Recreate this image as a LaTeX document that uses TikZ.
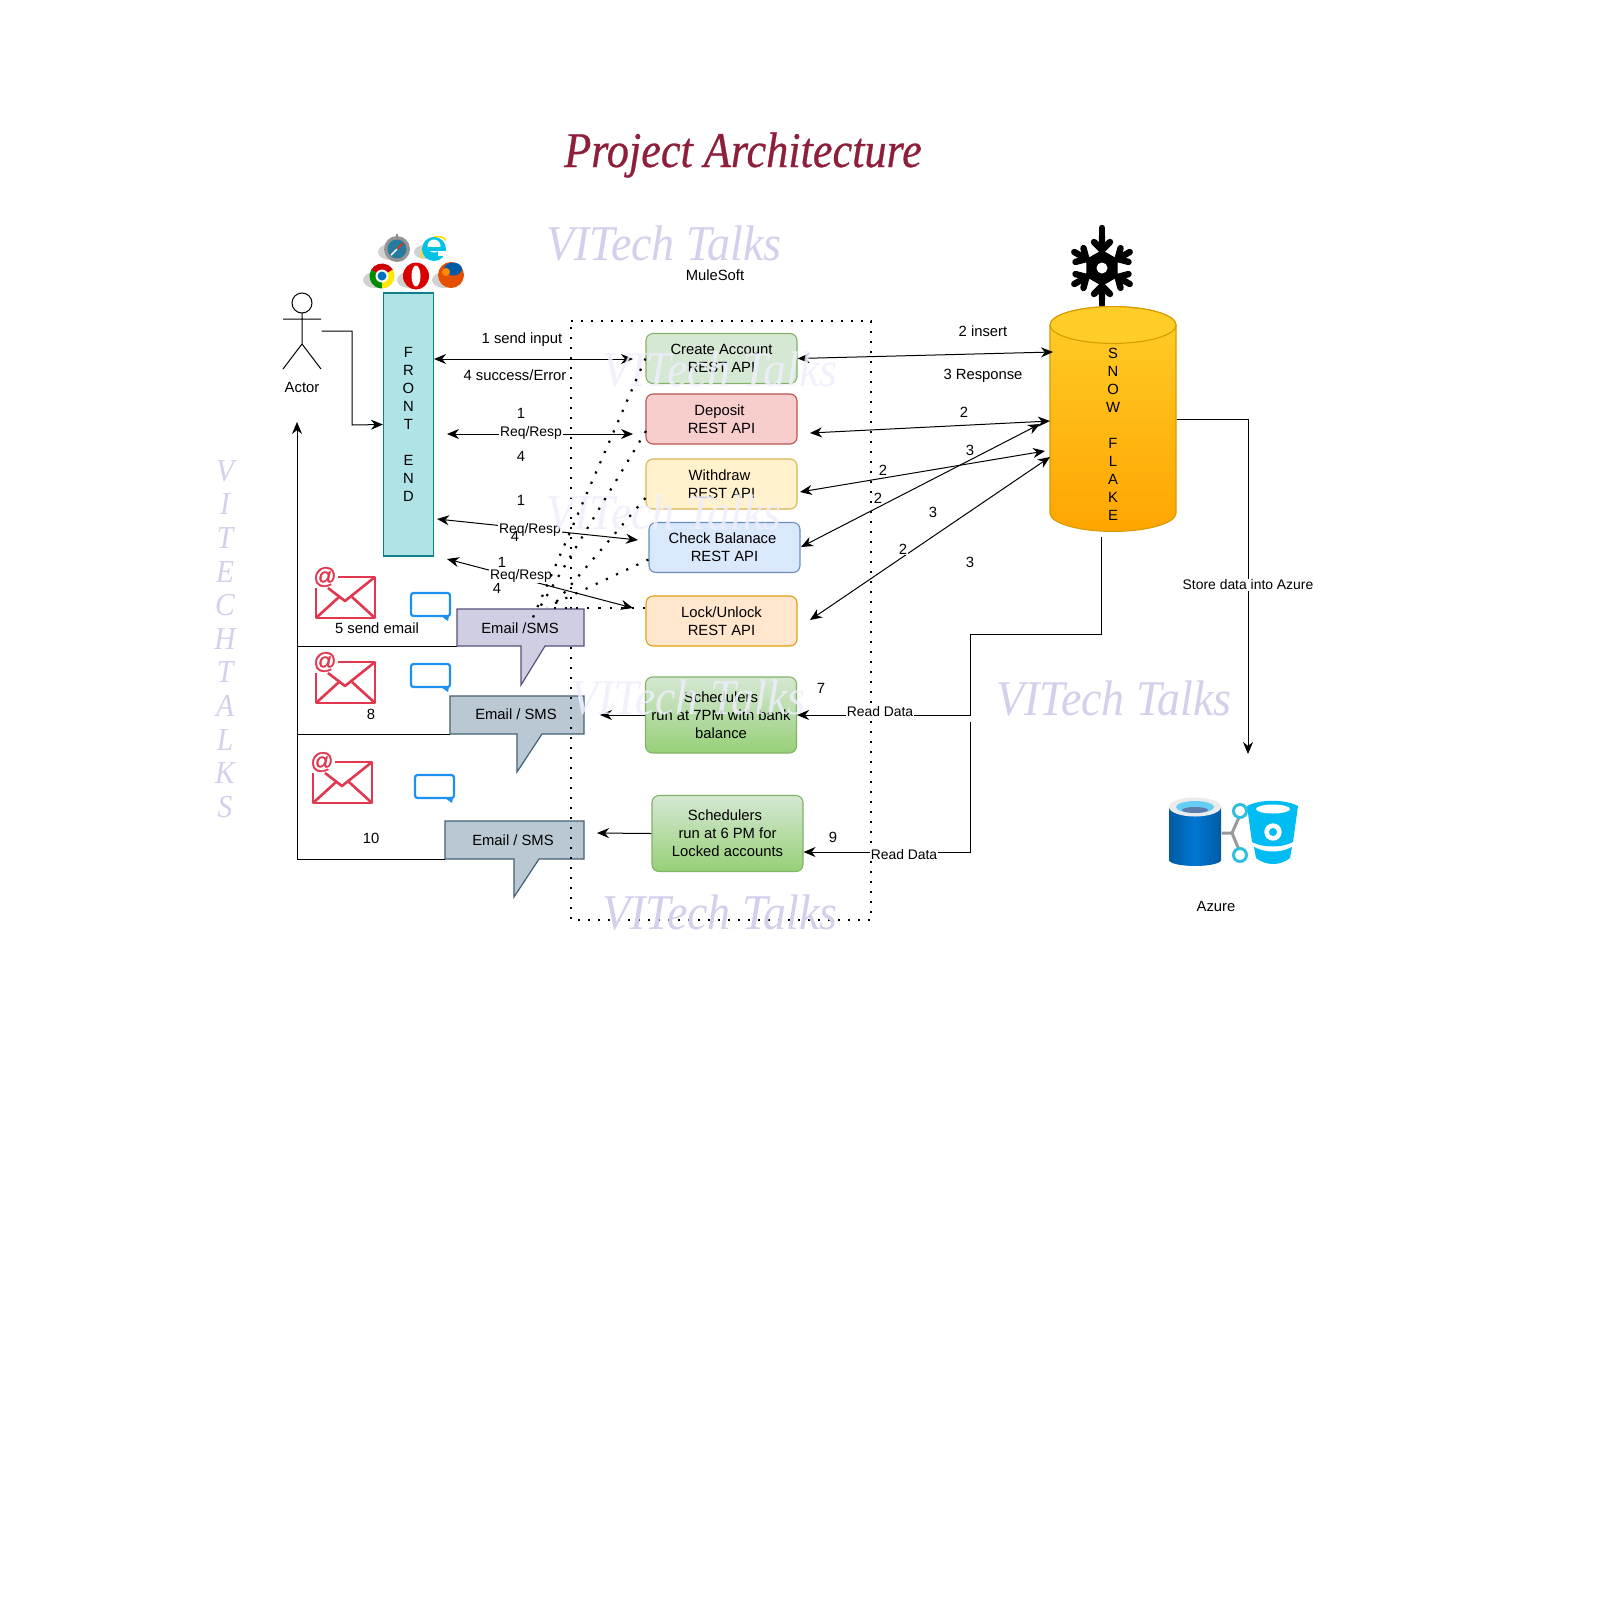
\documentclass[tikz,border=0pt]{standalone}
\usepackage{fontspec}
\usetikzlibrary{arrows.meta}
\setmainfont{Liberation Sans}
\newfontfamily\corsiva[FakeStretch=0.92]{Liberation Serif}
\newfontfamily\corsivab[FakeStretch=0.885,FakeBold=0.5]{Liberation Serif}
\newfontfamily\atfont[FakeBold=1.2]{Liberation Sans}
\definecolor{wine}{HTML}{8E1F3A}
\definecolor{wmdark}{HTML}{D3D0EC}
\definecolor{wmlight}{HTML}{EFEEFC}
\definecolor{maired}{HTML}{E1374F}
\definecolor{chatblue}{HTML}{1E90F0}
\definecolor{azcyan}{HTML}{00BCF2}
\definecolor{azring}{HTML}{32BEDD}
\definecolor{green1}{HTML}{D5E8D4}
\definecolor{green2}{HTML}{97D077}
\definecolor{green3}{HTML}{82B366}
\definecolor{redfill}{HTML}{F8CECC}
\definecolor{redline}{HTML}{B85450}
\definecolor{yelfill}{HTML}{FFF2CC}
\definecolor{yelline}{HTML}{D6B656}
\definecolor{bluefill}{HTML}{DAE8FC}
\definecolor{blueline}{HTML}{6C8EBF}
\definecolor{orafill}{HTML}{FFE6CC}
\definecolor{oraline}{HTML}{E0A010}
\definecolor{frontfill}{HTML}{B0E3E6}
\definecolor{frontline}{HTML}{0E8088}
\definecolor{snowtop}{HTML}{FFCD28}
\definecolor{snowbot}{HTML}{FFA500}
\definecolor{snowline}{HTML}{D79B00}
\definecolor{mailgray}{HTML}{BAC8D3}
\definecolor{mailgrayl}{HTML}{23445D}
\definecolor{mailpurple}{HTML}{D0CEE2}
\definecolor{mailpurplel}{HTML}{56517E}
\tikzset{
  mailicon/.pic={
    \draw[maired,line width=2.6,line join=round] (22,0) -- (59,0) -- (59,41) -- (0,41) -- (0,11);
    \draw[maired,line width=2.6,line join=round] (12,11) -- (29,24) -- (59,0);
    \draw[maired,line width=2.6] (0,41) -- (23,20) (59,41) -- (36,20);
    \node[text=maired,font=\fontsize{23}{23}\atfont\selectfont] (@) at (9,0) {@};
  },
  chaticon/.pic={
    \draw[chatblue,line width=2.2,rounded corners=2.5] (0,0) rectangle (39,23);
    \fill[chatblue] (30,23) -- (38,23) -- (37,28) -- cycle;
  }
}
\begin{document}
\begin{tikzpicture}[x=1pt,y=-1pt,>={Stealth[length=12pt,width=10pt]},line width=1]
\fontsize{14.8}{18}\selectfont
\tikzstyle{every node}=[inner sep=1,align=center]
\tikzstyle{api}=[draw,rounded corners=7,minimum width=151,minimum height=50,line width=1.1]
\tikzstyle{sched}=[api,minimum height=76,top color=green1,bottom color=green2,draw=green3]
\tikzstyle{elabel}=[font=\fontsize{13.9}{16}\selectfont]
\tikzstyle{wlabel}=[elabel,fill=white]
\tikzstyle{bigdark}=[text=wmdark,font=\fontsize{50}{50}\corsiva\itshape\selectfont]
\tikzstyle{biglight}=[text=wmlight,text opacity=.85,font=\fontsize{50}{50}\corsiva\itshape\selectfont]
\tikzstyle{dotbox}=[line width=2.4,dash pattern=on 2.4 off 7.6]
\tikzstyle{dotlink}=[line width=2.2,dash pattern=on 2.2 off 9]
\tikzstyle{mailbox}=[line width=1.2,line join=miter]
\path[fill=white,use as bounding box] (0,0) rectangle (1601,1604);

\node[text=wine,font=\fontsize{50}{50}\corsivab\itshape\selectfont] (title) at (743,155) {Project Architecture};
\node[bigdark] (wm1) at (664,244) {VITech Talks};
\node[bigdark] (wm2) at (1114,699) {VITech Talks};
\node (mule) at (715,275) {MuleSoft};
\node[text=wmdark,font=\fontsize{32}{33.6}\corsiva\itshape\selectfont] (wmv) at (225,639) {V\\I\\T\\E\\C\\H\\T\\A\\L\\K\\S};

% lower mail callouts
\draw[mailbox,draw=mailgrayl!85,fill=mailgray] (450,696) -- (584,696) -- (584,734) -- (542,734) -- (517,772) -- (517,734) -- (450,734) -- cycle;
\draw[mailbox,draw=mailgrayl!85,fill=mailgray] (445,821) -- (584,821) -- (584,859) -- (539,859) -- (514,897) -- (514,859) -- (445,859) -- cycle;
\node (mail2) at (516,714) {Email / SMS};
\node (mail3) at (513,840) {Email / SMS};

% dotted box
\draw[dotbox] (571,321) -- (871,321) -- (871,920) -- (571,920) -- cycle;

% actor
\node[minimum width=38,minimum height=76,inner sep=0] (actor) at (302,331) {};
\draw (302,303) circle[radius=10pt];
\draw (302,313) -- (302,344) (283,319) -- (321,319) (283,369) -- (302,344) -- (321,369);
\node (actorlbl) at (302,387) {Actor};

% browsers
\fill[black!18] (390,252) ellipse[x radius=12pt,y radius=8pt];
\fill[black!18] (425,252) ellipse[x radius=11pt,y radius=7pt];
\fill[black!18] (375,280) ellipse[x radius=12pt,y radius=8pt];
\fill[black!18] (409,280) ellipse[x radius=12pt,y radius=8pt];
\fill[black!18] (444,280) ellipse[x radius=12pt,y radius=8pt];
\fill[black!42] (397,249) circle[radius=13pt];
\fill[black!45] (396,234) rectangle (398,238);
\fill[blue!30!cyan!55!black!85] (397,249) circle[radius=9.5pt];
\draw[red!70!orange,line width=1.4] (397,249) -- (403,243);
\draw[white,line width=1.4] (397,249) -- (391,255);
\draw[yellow!80!orange,line width=1.6] (422,258) .. controls (420,238) and (440,232) .. (446,240);
\fill[blue!15!cyan!90!black] (434,249) circle[radius=12pt];
\fill[white] (434,246) circle[radius=6.5pt];
\fill[blue!15!cyan!90!black] (428,247) rectangle (441,251);
\fill[white] (438,251) rectangle (447,256);
\fill[red!80!black] (382,276) -- ++(150:12.5pt) arc[start angle=150,end angle=30,radius=12.5pt] -- cycle;
\fill[green!55!black] (382,276) -- ++(150:12.5pt) arc[start angle=150,end angle=270,radius=12.5pt] -- cycle;
\fill[yellow!90!orange] (382,276) -- ++(270:12.5pt) arc[start angle=270,end angle=390,radius=12.5pt] -- cycle;
\fill[white] (382,276) circle[radius=6.5pt];
\fill[blue!40!cyan!75!black] (382,276) circle[radius=4.5pt];
\fill[red!85!black] (416,276) ellipse[x radius=13pt,y radius=13.5pt];
\fill[white] (416,276) ellipse[x radius=4.5pt,y radius=10.5pt];
\fill[orange!70!red!90!black] (451,275) circle[radius=13pt];
\fill[blue!45!cyan!65!black] (453,269) ellipse[x radius=9pt,y radius=6.5pt];
\fill[orange!90!yellow] (446,272) circle[radius=4pt];

% front end
\node[draw=frontline,fill=frontfill,minimum width=50,minimum height=263,inner sep=0,line width=1.1] (front) at (408.5,424.5) {F\\R\\O\\N\\T\\ \\E\\N\\D};

% rest api boxes
\node[api,fill=green1,draw=green3] (create) at (721.5,358.5) {Create Account\\REST API};
\node[api,fill=redfill,draw=redline] (deposit) at (721.5,419) {Deposit\hspace*{4pt}\\REST API};
\node[api,fill=yelfill,draw=yelline] (withdraw) at (721.5,484) {Withdraw\hspace*{4pt}\\REST API};
\node[api,fill=bluefill,draw=blueline] (check) at (724.5,547.5) {Check Balanace\hspace*{4pt}\\REST API};
\node[api,fill=orafill,draw=oraline] (lock) at (721.5,621) {Lock/Unlock\\REST API};
\node[sched] (sched7) at (721,715) {Schedulers\\run at 7PM with bank\\balance};
\node[sched] (sched6) at (727.5,833.5) {Schedulers\hspace*{5pt}\\run at 6 PM for\\Locked accounts};

% snowflake
\begin{scope}[shift={(1102,268)}]
\fill (30:18pt) -- (90:18pt) -- (150:18pt) -- (210:18pt) -- (270:18pt) -- (330:18pt) -- cycle;
\foreach \a in {0,60,...,300}
  \draw[line width=6.4,line cap=round,rotate=\a] (0,0) -- (0,-32) (0,-18) -- (8,-26) (0,-18) -- (-8,-26);
\draw[line width=6.4,line cap=round] (0,-32) -- (0,-40) (0,32) -- (0,37);
\fill[white] (0,0) circle[radius=5.5pt];
\end{scope}

% snowflake cylinder
\path[top color=snowtop,bottom color=snowbot,draw=snowline,line width=1.1] (1050,325) -- (1050,513) arc[start angle=180,end angle=360,x radius=63pt,y radius=18.4pt] -- (1176,325) arc[start angle=0,end angle=180,x radius=63pt,y radius=18.4pt] -- cycle;
\filldraw[fill=snowtop,draw=snowline,line width=1.1] (1113,325) ellipse[x radius=63pt,y radius=18.4pt];
\node[minimum width=126,minimum height=224,inner sep=0] (snow) at (1113,419) {};
\node (snowtext) at (1113,434.5) {S\\N\\O\\W\\ \\F\\L\\A\\K\\E};

% free ends of the connectors
\coordinate (frCreate) at (633,359);
\coordinate (inDeposit) at (633,434);
\coordinate (frDeposit) at (447,434);
\coordinate (inCheck) at (638,540);
\coordinate (frCheck) at (437,519);
\coordinate (inLock) at (633,608);
\coordinate (frLock) at (447,559);
\coordinate (snCreate) at (1053,352);
\coordinate (apDeposit) at (810,433);
\coordinate (snDeposit) at (1050,421);
\coordinate (snWithdraw) at (1045,451);
\coordinate (apWithdraw) at (800,492);
\coordinate (apCheck) at (801,547);
\coordinate (snCheck) at (1040,424);
\coordinate (apLock) at (810,620);
\coordinate (snLock) at (1050,457);
\coordinate (outS7) at (600,715);
\coordinate (outS6) at (597,833);
\coordinate (rd2) at (970,722);
\coordinate (azIn) at (1248,754);
\coordinate (fbTop) at (297,422);

\draw[->] (actor.east) -- (352,331) -- (352,425) -- (front.west);
\draw[<->] (front.east |- frCreate) -- (frCreate);
\draw[<->] (frDeposit) -- (inDeposit);
\draw[<->] (frCheck) -- (inCheck);
\draw[<->] (frLock) -- (inLock);
\draw[<->] (create.east) -- (snCreate);
\draw[<->] (apDeposit) -- (snDeposit);
\draw[<->] (apWithdraw) -- (snWithdraw);
\draw[<->] (apCheck) -- (snCheck);
\draw[<->] (apLock) -- (snLock);
\draw[->] (1101,537) -- (1101,634) -- (970,634) -- (970,715) -- (sched7.east);
\draw[->] (rd2) -- (970,852) -- (sched6.east |- 0,852);
\draw[->] (sched7.west) -- (outS7);
\draw[->] (sched6.west) -- (outS6);
\draw[->] (snow.east) -- (1248,419) -- (azIn);
\draw[->] (445,859) -- (297,859) -- (fbTop);
\draw (457,646) -- (297,646);
\draw (450,734) -- (297,734);

% labels on the connectors
\node (send1) at (522,340) {1 send input};
\node (succ4) at (515,375) {4 success/Error};
\node (dp1) at (521,413) {1};
\node[wlabel] (dpreq) at (531,433) {Req/Resp};
\node (dp4) at (521,456) {4};
\node (ck1) at (521,500) {1};
\node[wlabel] (ckreq) at (530,530) {Req/Resp};
\node (ck4) at (515,536) {4};
\node (lk1) at (502,562) {1};
\node[wlabel] (lkreq) at (521,576) {Req/Resp};
\node (lk4) at (497,588) {4};
\node (ins2) at (983,331) {2 insert};
\node (resp3) at (983,376) {3 Response};
\node (dp2) at (964,412) {2};
\node[fill=white] (wd2) at (883,470) {2};
\node (wd3) at (970,450) {3};
\node[fill=white] (ck2) at (878,498) {2};
\node (ck3) at (933,512) {3};
\node[fill=white] (lk2) at (903,549) {2};
\node (lk3) at (970,562) {3};
\node (n7) at (821,688) {7};
\node[wlabel] (read7) at (880,712) {Read Data};
\node (n9) at (833,837) {9};
\node[wlabel] (read9) at (904,855) {Read Data};
\node[wlabel] (store) at (1248,585) {Store data into Azure};

% light watermarks
\node[biglight] (wm3) at (720,370) {VITech Talks};
\node[biglight] (wm4) at (664,513) {VITech Talks};
\node[biglight] (wm5) at (688,698) {VITech Talks};
\node[bigdark] (wm6) at (720,913) {VITech Talks};

% top mail callout, dotted links run over it
\draw[mailbox,draw=mailpurplel,fill=mailpurple] (457,609) -- (584,609) -- (584,646) -- (545,646) -- (521,685) -- (521,646) -- (457,646) -- cycle;
\node (mail1) at (520,628) {Email /SMS};
\coordinate (dotA) at (531,622);
\coordinate (dotB) at (540,607);
\coordinate (dotC) at (552,607);
\coordinate (dotD) at (547,607);
\coordinate (dotE) at (547,608);
\coordinate (apDep) at (646,431);
\draw[dotlink] (create.west) -- (dotA);
\draw[dotlink] (apDep) -- (dotB);
\draw[dotlink] (withdraw.west) ++(0,14) -- (dotC);
\draw[dotlink] (check.west) ++(0,12) -- (dotD);
\draw[dotlink] (lock.west) ++(0,-13) -- (dotE);

% mail icons and chat icons
\pic at (316,577) {mailicon};
\pic at (316,662) {mailicon};
\pic at (313,762) {mailicon};
\pic at (411,593) {chaticon};
\pic at (411,664) {chaticon};
\pic at (415,775) {chaticon};
\node (send5) at (377,628) {5 send email};
\node (n8) at (371,714) {8};
\node (n10) at (371,838) {10};

% azure
\definecolor{azdark}{HTML}{005BA1}
\definecolor{azmid}{HTML}{0078D4}
\shade[left color=azdark,right color=azdark,middle color=azmid] (1169,807) -- (1169,860) arc[start angle=180,end angle=360,x radius=26pt,y radius=6pt] -- (1221,807) -- cycle;
\fill[black!8] (1195,807) ellipse[x radius=26pt,y radius=9.5pt];
\fill[cyan!60!white] (1195,807) ellipse[x radius=19pt,y radius=6pt];
\fill[cyan!50!blue!70!black!80] (1195,810) ellipse[x radius=13pt,y radius=3pt];
\node[minimum width=52,minimum height=70,inner sep=0] (azdb) at (1195,832) {};
\draw[black!40,line width=3] (azdb.east |- 0,833) -- (1232,833) -- (1240,815) (1232,833) -- (1240,852);
\filldraw[draw=azring,fill=white,line width=3] (1240,811) circle[radius=6.5pt];
\filldraw[draw=azring,fill=white,line width=3] (1240,855) circle[radius=6.5pt];
\fill[azcyan] (1247,806) .. controls (1260,799) and (1285,799) .. (1298,806) -- (1293,842) .. controls (1282,848) and (1263,848) .. (1252,842) -- cycle;
\fill[azcyan] (1254,847) .. controls (1265,853) and (1281,853) .. (1292,847) -- (1290,858) .. controls (1280,866) and (1266,866) .. (1256,858) -- cycle;
\fill[white] (1273,809) ellipse[x radius=17pt,y radius=4.5pt];
\fill[white] (1273,832) circle[radius=8.7pt];
\fill[azcyan] (1273,832) circle[radius=4pt];
\node (azure) at (1216,906) {Azure};
\end{tikzpicture}
\end{document}
